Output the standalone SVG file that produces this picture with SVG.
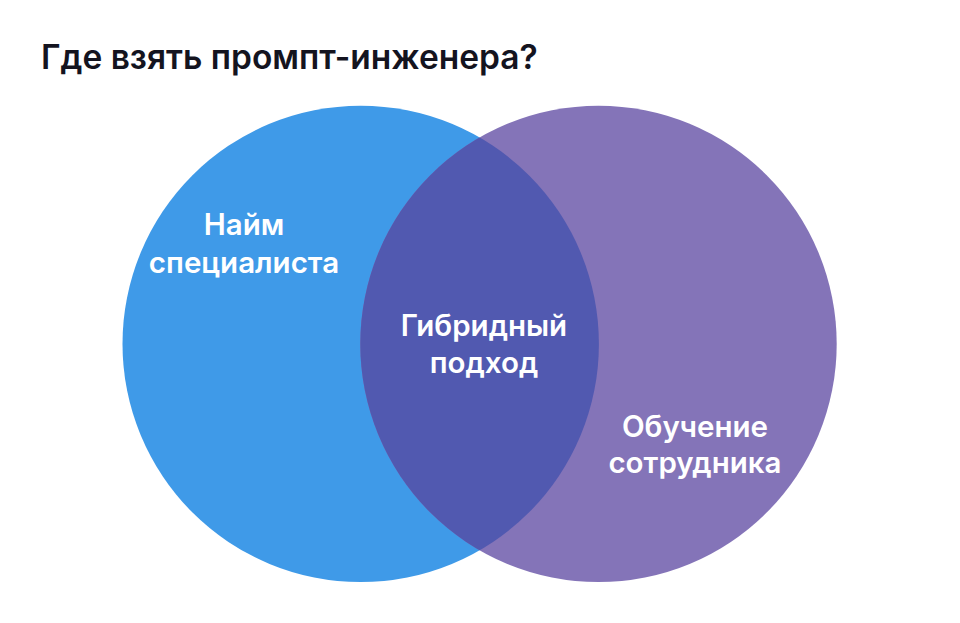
<svg xmlns="http://www.w3.org/2000/svg" width="960" height="623" viewBox="0 0 960 623">
<style>
.t{font-family:Inter,"Noto Sans","DejaVu Sans",sans-serif;font-weight:600;font-size:29.5px;fill:#ffffff;text-anchor:middle}
.h{font-family:Inter,"Noto Sans","DejaVu Sans",sans-serif;font-weight:600;font-size:33.5px;fill:#14141f}
</style>
<rect width="960" height="623" fill="#ffffff"/>
<text class="h" x="41" y="69">Где взять промпт-инженера?</text>
<g id="left"><circle cx="360.7" cy="343.9" r="238.2" fill="#3f9ae8"/></g>
<g id="right"><circle cx="598.5" cy="343.9" r="238.2" fill="#8474b8"/></g>
<g id="overlap">
<clipPath id="cl"><circle cx="360.7" cy="343.9" r="238.2"/></clipPath>
<circle cx="598.5" cy="343.9" r="238.2" fill="#5159b0" clip-path="url(#cl)"/>
</g>
<g id="labels">
<text class="t" x="244" y="235">Найм</text>
<text class="t" x="244" y="273">специалиста</text>
<text class="t" x="484" y="336">Гибридный</text>
<text class="t" x="484" y="372.5">подход</text>
<text class="t" x="695" y="436.5">Обучение</text>
<text class="t" x="695" y="473">сотрудника</text>
</g>
<g id="connectors"/>
</svg>
